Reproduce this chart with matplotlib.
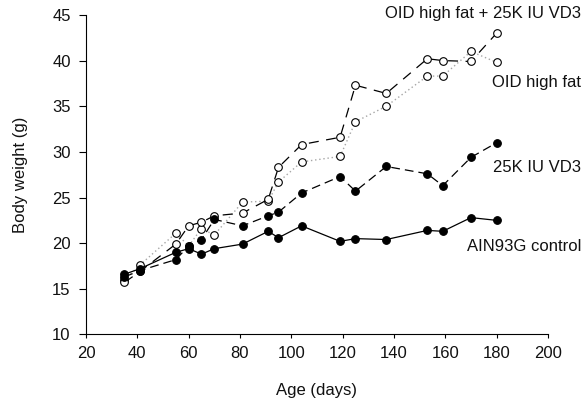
import matplotlib.pyplot as plt

# Age (days) and body weight (g) for each diet group
ages = [35, 41, 55, 60, 65, 70, 81, 91, 95, 104, 119, 125, 137, 153, 159, 170, 180]
control = [16.6, 17.2, 19.0, 19.4, 18.8, 19.4, 19.9, 21.3, 20.6, 21.9, 20.2, 20.5, 20.4, 21.4, 21.3, 22.8, 22.5]
vd3 = [16.3, 17.0, 18.2, 19.7, 20.4, 22.6, 21.9, 23.0, 23.4, 25.5, 27.3, 25.7, 28.4, 27.6, 26.3, 29.4, 31.0]
hf = [16.0, 17.6, 21.1, 19.7, 21.6, 20.9, 24.5, 24.6, 26.7, 28.9, 29.5, 33.3, 35.0, 38.3, 38.3, 41.0, 39.8]
hf_vd3 = [15.7, 16.9, 19.9, 21.9, 22.3, 23.0, 23.3, 24.8, 28.3, 30.8, 31.6, 37.3, 36.4, 40.2, 40.0, 39.9, 43.0]

plt.rcParams['font.family'] = ['Liberation Sans', 'DejaVu Sans']

fig = plt.figure(figsize=(5.87, 4.03), dpi=100)
ax = fig.add_axes([0.1465, 0.170, 0.787, 0.793])

ms = 5.5
# dotted grey line: OID high fat
ax.plot(ages, hf, linestyle=(0, (1, 2)), color='0.65', lw=1,
        marker='o', ms=ms, mfc='white', mec='black', mew=0.8)
# long dash: OID high fat + VD3
ax.plot(ages, hf_vd3, linestyle=(0, (8, 6)), color='black', lw=0.9,
        marker='o', ms=ms, mfc='white', mec='black', mew=0.8)
# dashed: 25K IU VD3
ax.plot(ages, vd3, linestyle=(0, (7, 4)), color='black', lw=0.9,
        marker='o', ms=ms, mfc='black', mec='black', mew=0.8)
# solid: control
ax.plot(ages, control, linestyle='-', color='black', lw=0.9,
        marker='o', ms=ms, mfc='black', mec='black', mew=0.8)

# series labels at the right end
fs = 12
tc = '#111111'
ax.text(213, 45.2, 'OID high fat + 25K IU VD3', ha='right', va='center', fontsize=fs, color=tc, clip_on=False)
ax.text(213, 37.6, 'OID high fat', ha='right', va='center', fontsize=fs, color=tc, clip_on=False)
ax.text(213, 28.3, '25K IU VD3', ha='right', va='center', fontsize=fs, color=tc, clip_on=False)
ax.text(213, 19.6, 'AIN93G control', ha='right', va='center', fontsize=fs, color=tc, clip_on=False)

ax.set_xlim(20, 200)
ax.set_ylim(10, 45)
ax.set_xticks(range(20, 201, 20))
ax.set_yticks(range(10, 46, 5))
ax.tick_params(axis='x', direction='out', length=3, width=0.8, labelsize=fs, pad=5, labelcolor=tc)
ax.tick_params(axis='y', direction='out', length=5, width=0.8, labelsize=fs, pad=6, labelcolor=tc)
ax.spines['top'].set_visible(False)
ax.spines['right'].set_visible(False)
ax.spines['left'].set_linewidth(0.8)
ax.spines['bottom'].set_linewidth(0.8)

ax.set_xlabel('Age (days)', fontsize=fs, color=tc)
ax.set_ylabel('Body weight (g)', fontsize=fs, color=tc)
ax.xaxis.set_label_coords(0.5, -0.152)
ax.yaxis.set_label_coords(-0.126, 0.5)

fig.savefig('out.png', dpi=100)
